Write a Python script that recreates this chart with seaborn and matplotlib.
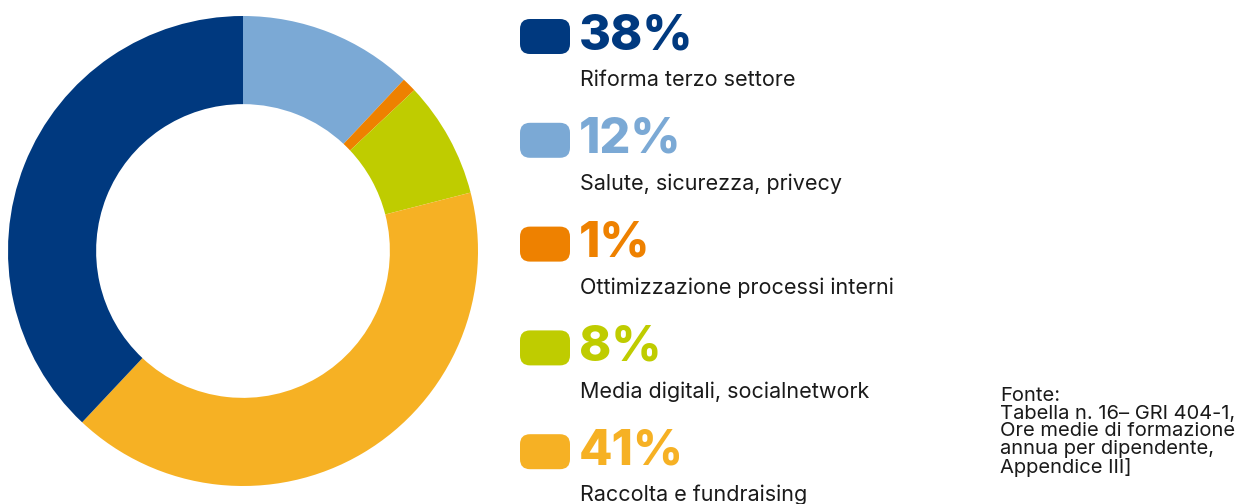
import matplotlib
matplotlib.use("Agg")
import matplotlib.pyplot as plt
import seaborn as sns
from matplotlib.patches import FancyBboxPatch

# dati del grafico
categorie = ["Riforma terzo settore", "Salute, sicurezza, privecy",
             "Ottimizzazione processi interni", "Media digitali, socialnetwork",
             "Raccolta e fundraising"]
percentuali = [38, 12, 1, 8, 41]
colori = ["#00397F", "#7BA9D5", "#EE8100", "#BFCC00", "#F6B124"]
ordine_torta = [1, 2, 3, 4, 0]  # ordine orario partendo dall'alto
fonte = "Fonte:\nTabella n. 16– GRI 404-1,\nOre medie di formazione\nannua per dipendente,\nAppendice III]"

sns.set_theme(style="white")
plt.rcParams['font.family'] = ['Inter', 'DejaVu Sans']

fig = plt.figure(figsize=(12.5, 5.04), dpi=100)
W, H = 1250, 504

# ciambella
ax = fig.add_axes([8 / W, 18 / H, 470 / W, 470 / H])
valori = [percentuali[i] for i in ordine_torta]
col = [colori[i] for i in ordine_torta]
ax.pie(valori, colors=col, startangle=90, counterclock=False,
       wedgeprops=dict(width=0.375, edgecolor="none"))
ax.set_xlim(-1, 1)
ax.set_ylim(-1, 1)
ax.set_aspect("equal")
ax.axis("off")

# legenda manuale
y0 = 36
passo = 103.8
for k, (cat, p, c) in enumerate(zip(categorie, percentuali, colori)):
    yc = y0 + k * passo
    box = FancyBboxPatch((520 / W, (H - yc - 18) / H), 50 / W, 35 / H,
                         boxstyle="round,pad=0,rounding_size=0.008",
                         transform=fig.transFigure, facecolor=c,
                         edgecolor="none", mutation_aspect=W / H)
    fig.patches.append(box)
    fig.text(579 / W, (H - yc) / H, f"{p}%", color=c, fontsize=35,
             fontweight="heavy", va="center", ha="left")
    fig.text(580 / W, (H - yc - 44) / H, cat, color="#1a1a1a",
             fontsize=15.5, va="center", ha="left")

fig.text(1000 / W, (H - 387) / H, fonte, color="#1a1a1a", fontsize=14.5,
         va="top", ha="left", linespacing=0.98)

plt.savefig("out.png", dpi=100)
